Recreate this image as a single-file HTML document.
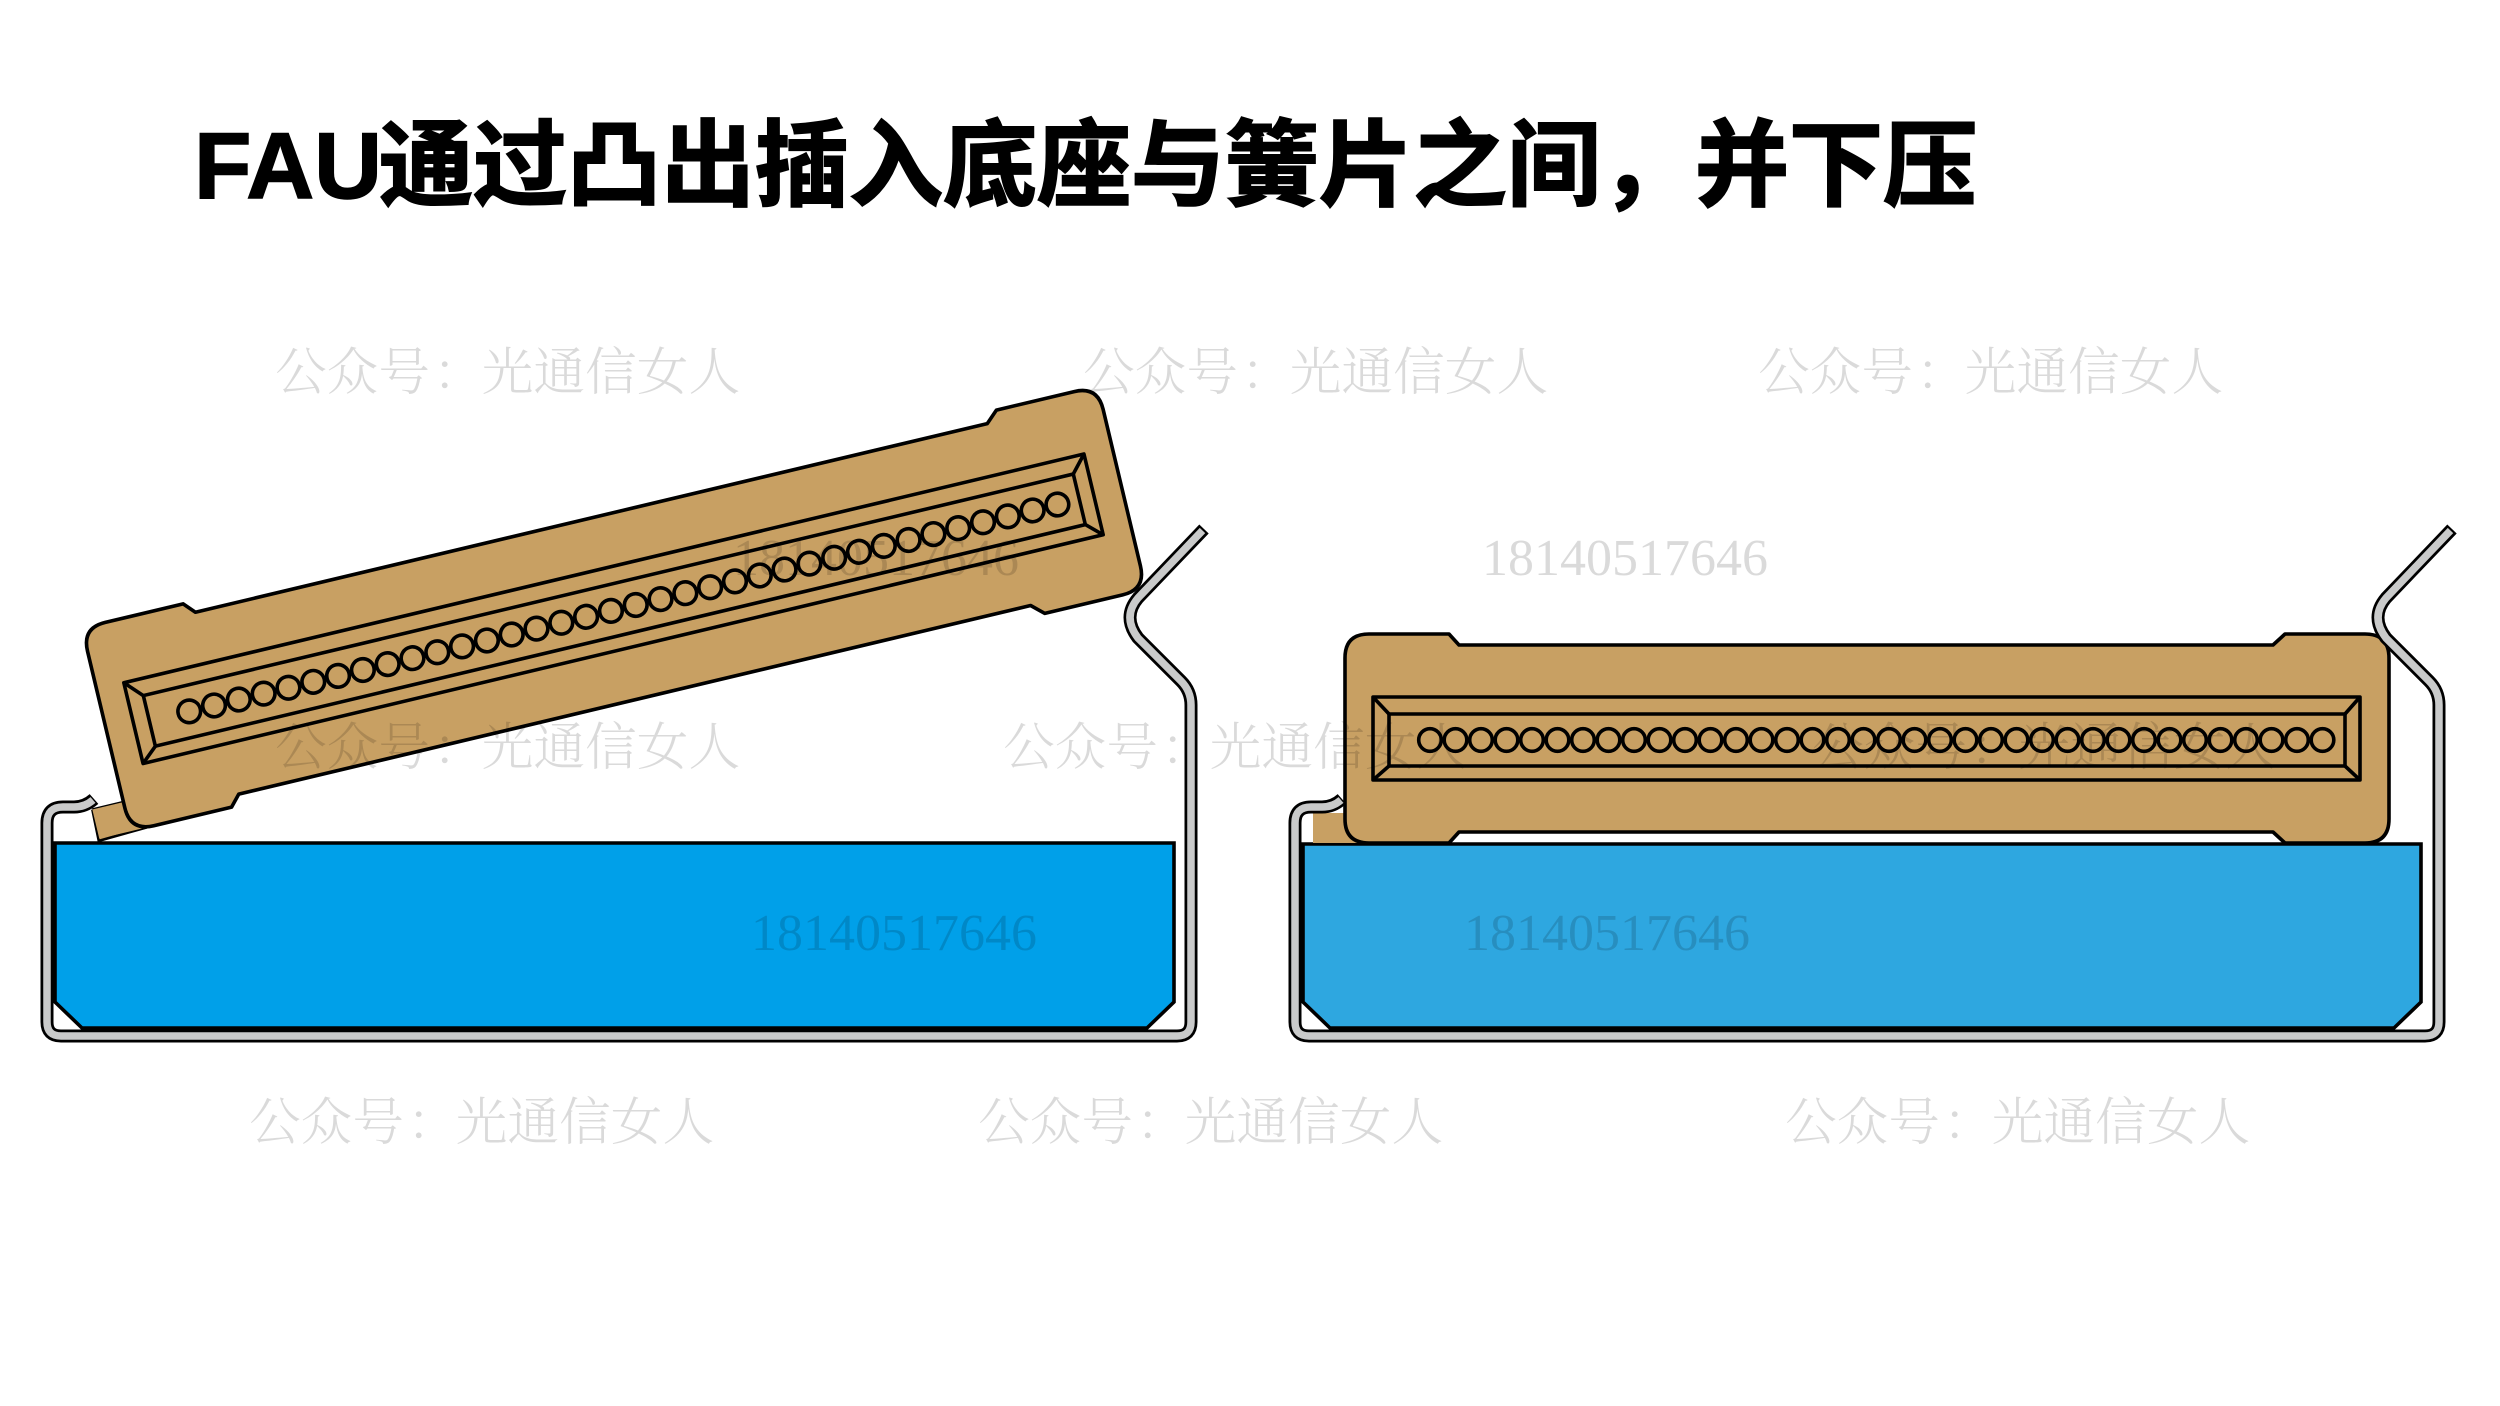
<!DOCTYPE html>
<html lang="zh">
<head>
<meta charset="utf-8">
<title>FAU</title>
<style>
html,body{margin:0;padding:0;background:#fff;width:2500px;height:1406px;overflow:hidden}
svg{display:block}
.title{font-family:"Noto Sans CJK SC","Liberation Sans",sans-serif;font-weight:700;font-size:94px;fill:#000;stroke:#000;stroke-width:2px}
.fau{font-family:"Liberation Sans","Noto Sans CJK SC",sans-serif;font-weight:700;font-size:94px;fill:#000;stroke:#000;stroke-width:1.5px}
.wm{font-family:"Liberation Serif","Noto Serif CJK SC",serif;font-size:51.7px;font-weight:300;fill:#000;opacity:.14}
.num{font-family:"Liberation Serif",serif;font-size:52px;fill:#000;opacity:.14}
</style>
</head>
<body>
<svg width="2500" height="1406" viewBox="0 0 2500 1406" xmlns="http://www.w3.org/2000/svg">
<defs>
<g id="piece" stroke="#000" stroke-width="3.6" stroke-linejoin="round">
  <path fill="#c8a063" stroke="none" d="M1313 813H1360V843H1313Z"/>
  <path fill="#c8a063" d="M1369 634H1449L1459 645H2273L2285 634H2365Q2389 634 2389 658V819Q2389 843 2365 843H2285L2273 832H1459L1449 843H1369Q1345 843 1345 819V658Q1345 634 1369 634Z"/>
  <rect x="1373" y="697" width="987" height="83" fill="#c8a063"/>
  <rect x="1389" y="714" width="956" height="52" fill="#c8a063"/>
  <path fill="none" d="M1373 697L1389 714M2360 697L2345 714M1373 780L1389 766M2360 780L2345 766"/>
  <g fill="none">
    <circle cx="1430" cy="740" r="11.3"/><circle cx="1455.5" cy="740" r="11.3"/><circle cx="1481" cy="740" r="11.3"/><circle cx="1506.5" cy="740" r="11.3"/><circle cx="1532" cy="740" r="11.3"/><circle cx="1557.5" cy="740" r="11.3"/>
    <circle cx="1583" cy="740" r="11.3"/><circle cx="1608.5" cy="740" r="11.3"/><circle cx="1634" cy="740" r="11.3"/><circle cx="1659.5" cy="740" r="11.3"/><circle cx="1685" cy="740" r="11.3"/><circle cx="1710.5" cy="740" r="11.3"/>
    <circle cx="1736" cy="740" r="11.3"/><circle cx="1761.5" cy="740" r="11.3"/><circle cx="1787" cy="740" r="11.3"/><circle cx="1812.5" cy="740" r="11.3"/><circle cx="1838" cy="740" r="11.3"/><circle cx="1863.5" cy="740" r="11.3"/>
    <circle cx="1889" cy="740" r="11.3"/><circle cx="1914.5" cy="740" r="11.3"/><circle cx="1940" cy="740" r="11.3"/><circle cx="1965.5" cy="740" r="11.3"/><circle cx="1991" cy="740" r="11.3"/><circle cx="2016.5" cy="740" r="11.3"/>
    <circle cx="2042" cy="740" r="11.3"/><circle cx="2067.5" cy="740" r="11.3"/><circle cx="2093" cy="740" r="11.3"/><circle cx="2118.5" cy="740" r="11.3"/><circle cx="2144" cy="740" r="11.3"/><circle cx="2169.5" cy="740" r="11.3"/>
    <circle cx="2195" cy="740" r="11.3"/><circle cx="2220.5" cy="740" r="11.3"/><circle cx="2246" cy="740" r="11.3"/><circle cx="2271.5" cy="740" r="11.3"/><circle cx="2297" cy="740" r="11.3"/><circle cx="2322.5" cy="740" r="11.3"/>
  </g>
</g>
<g id="spring" fill="none" stroke-linejoin="miter">
  <path d="M94 799Q85 807 74 807H63Q47 807 47 823V1022Q47 1036 61 1036H1177Q1191 1036 1191 1022V705Q1191 691 1181 681L1138 638Q1122 617 1138 598L1204 529" stroke="#000" stroke-width="13"/>
  <path d="M93 800Q85 807 74 807H63Q47 807 47 823V1022Q47 1036 61 1036H1177Q1191 1036 1191 1022V705Q1191 691 1181 681L1138 638Q1122 617 1138 598L1202.5 530.5" stroke="#c9caca" stroke-width="7.5"/>
</g>
</defs>
<rect width="2500" height="1406" fill="#fff"/>

<text class="fau" x="194" y="198">FAU</text>
<text class="title" x="379" y="198">通过凸出插入底座与簧片之间，并下压</text>

<!-- Left assembly -->
<path d="M55 843H1174V1002L1147 1028H82L55 1002Z" fill="#00a0e9" stroke="#000" stroke-width="3.6"/>
<g transform="translate(-1253 -129.75) rotate(-13.4 1866.5 738.5)">
  <path d="M1350 813H1313L1312 845L1362 843V813Z" fill="#c8a063" stroke="none"/>
  <path d="M1313 813L1312 845L1362 843M1313 813H1350" fill="none" stroke="#000" stroke-width="2.6"/>
  <use href="#piece"/>
</g>
<use href="#spring"/>

<!-- Right assembly -->
<path d="M1303 844H2421V1002L2394 1028H1330L1303 1002Z" fill="#2ea7e0" stroke="#000" stroke-width="3.6"/>
<use href="#piece"/>
<use href="#spring" x="1248"/>

<!-- Watermarks -->
<text class="wm" x="275" y="390">公众号<tspan dx="3">：</tspan><tspan dx="-3">光通信女人</tspan></text>
<text class="wm" x="1083" y="390">公众号<tspan dx="3">：</tspan><tspan dx="-3">光通信女人</tspan></text>
<text class="wm" x="1758" y="390">公众号<tspan dx="3">：</tspan><tspan dx="-3">光通信女人</tspan></text>
<text class="wm" x="275" y="765">公众号<tspan dx="3">：</tspan><tspan dx="-3">光通信女人</tspan></text>
<text class="wm" x="1003" y="765">公众号<tspan dx="3">：</tspan><tspan dx="-3">光通信女人</tspan></text>
<text class="wm" x="1812" y="765">公众号<tspan dx="3">：</tspan><tspan dx="-3">光通信女人</tspan></text>
<text class="wm" x="249" y="1140">公众号<tspan dx="3">：</tspan><tspan dx="-3">光通信女人</tspan></text>
<text class="wm" x="978" y="1140">公众号<tspan dx="3">：</tspan><tspan dx="-3">光通信女人</tspan></text>
<text class="wm" x="1785" y="1140">公众号<tspan dx="3">：</tspan><tspan dx="-3">光通信女人</tspan></text>
<text class="num" x="733" y="575">18140517646</text>
<text class="num" x="1482" y="575">18140517646</text>
<text class="num" x="751" y="950">18140517646</text>
<text class="num" x="1464" y="950">18140517646</text>
</svg>
</body>
</html>
